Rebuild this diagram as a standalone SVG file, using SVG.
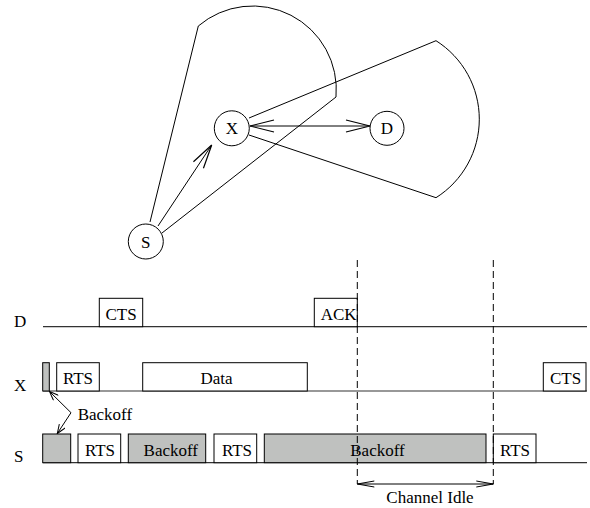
<svg xmlns="http://www.w3.org/2000/svg" width="590" height="508" viewBox="0 0 590 508">
<style>
.ln{fill:none;stroke:#000;stroke-width:1}
.nd{fill:#fff;stroke:#000;stroke-width:1}
text{font-family:'Liberation Serif','Times New Roman',Times,serif;font-size:17px;fill:#000}
.tl{fill:none;stroke:#333;stroke-width:1.2}
.bx{fill:#fff;stroke:#000;stroke-width:1}
.gb{fill:#bfc1bf;stroke:#000;stroke-width:1}
.dash{fill:none;stroke:#000;stroke-width:1;stroke-dasharray:7,4}
</style>
<defs>
<marker id="oa" viewBox="0 0 26 14" refX="25" refY="7" markerWidth="26" markerHeight="14" markerUnits="userSpaceOnUse" orient="auto-start-reverse">
<path d="M1,1 L25,7 L1,13" fill="none" stroke="#000" stroke-width="1.2"/>
</marker>
<marker id="sa" viewBox="0 0 10 8" refX="9.5" refY="4" markerWidth="10" markerHeight="8" markerUnits="userSpaceOnUse" orient="auto-start-reverse">
<path d="M0.5,0.5 L9.5,4 L0.5,7.5" fill="none" stroke="#000" stroke-width="1"/>
</marker>
<marker id="ca" viewBox="0 0 18 8" refX="17.5" refY="4" markerWidth="18" markerHeight="8" markerUnits="userSpaceOnUse" orient="auto-start-reverse">
<path d="M0.5,1 L17.5,4 L0.5,7" fill="none" stroke="#000" stroke-width="1"/>
</marker>
</defs>

<g id="range-S">
<path class="ln" d="M150,222 L198.3,26 A83.7,83.7 0 0 1 336,97 L162,233"/>
</g>
<g id="range-X">
<path class="ln" d="M249,118 L436,40.7 A92.8,92.8 0 0 1 436,197.7 L249,135"/>
</g>

<g id="connectors">
<line class="ln" x1="158" y1="226" x2="211.7" y2="145" stroke-width="1.3" marker-end="url(#oa)"/>
<line class="ln" x1="250" y1="126" x2="370" y2="126" stroke-width="1.3" marker-start="url(#oa)" marker-end="url(#oa)"/>
</g>

<g id="node-X">
<circle class="nd" cx="231.8" cy="128.3" r="17.5"/>
<text x="231.8" y="134" text-anchor="middle">X</text>
</g>
<g id="node-D">
<circle class="nd" cx="387" cy="128.3" r="17"/>
<text x="387" y="134" text-anchor="middle">D</text>
</g>
<g id="node-S">
<circle class="nd" cx="145.8" cy="241.5" r="17.5"/>
<text x="145.8" y="247.5" text-anchor="middle">S</text>
</g>

<g id="timeline-D">
<text x="14" y="326.7">D</text>
<line class="tl" x1="43" y1="326.7" x2="587" y2="326.7"/>
<rect class="bx" x="99.3" y="298.3" width="43.4" height="28.4"/>
<text x="121" y="320" text-anchor="middle">CTS</text>
<rect class="bx" x="314.3" y="298.3" width="43" height="28.4"/>
<text x="320.7" y="320">ACK</text>
</g>

<g id="timeline-X">
<text x="14" y="391">X</text>
<line class="tl" x1="43" y1="391" x2="587" y2="391"/>
<rect class="gb" x="42.7" y="362.7" width="6.6" height="28.3"/>
<rect class="bx" x="56.7" y="362.7" width="42.6" height="28.3"/>
<text x="78" y="384" text-anchor="middle">RTS</text>
<rect class="bx" x="142.7" y="362.7" width="164.6" height="28.3"/>
<text x="216.5" y="384" text-anchor="middle">Data</text>
<rect class="bx" x="543.3" y="362.7" width="42.7" height="28.3"/>
<text x="565.5" y="384" text-anchor="middle">CTS</text>
</g>

<g id="timeline-S">
<text x="14" y="462">S</text>
<line class="tl" x1="43" y1="462.7" x2="587" y2="462.7"/>
<rect class="gb" x="42.7" y="434" width="28" height="28.7"/>
<rect class="bx" x="78" y="434" width="42.7" height="28.7"/>
<text x="100" y="456" text-anchor="middle">RTS</text>
<rect class="gb" x="128.3" y="434" width="77.4" height="28.7"/>
<text x="170.8" y="456" text-anchor="middle">Backoff</text>
<rect class="bx" x="214" y="434" width="42.7" height="28.7"/>
<text x="237" y="456" text-anchor="middle">RTS</text>
<rect class="gb" x="264.3" y="434" width="221.7" height="28.7"/>
<text x="377.5" y="456" text-anchor="middle">Backoff</text>
<rect class="bx" x="493.3" y="434" width="42.7" height="28.7"/>
<text x="515" y="456" text-anchor="middle">RTS</text>
</g>

<g id="backoff-label">
<path class="ln" d="M71,412.7 L49.5,391.5" marker-end="url(#sa)"/>
<path class="ln" d="M71,412.7 L57.3,433.5" marker-end="url(#sa)"/>
<text x="77.7" y="420">Backoff</text>
</g>

<g id="channel-idle">
<line class="dash" x1="357.3" y1="260" x2="357.3" y2="484"/>
<line class="dash" x1="493.3" y1="260" x2="493.3" y2="484"/>
<line class="ln" x1="357.3" y1="484" x2="493.3" y2="484" marker-start="url(#ca)" marker-end="url(#ca)"/>
<text x="430" y="503" text-anchor="middle">Channel Idle</text>
</g>
</svg>
